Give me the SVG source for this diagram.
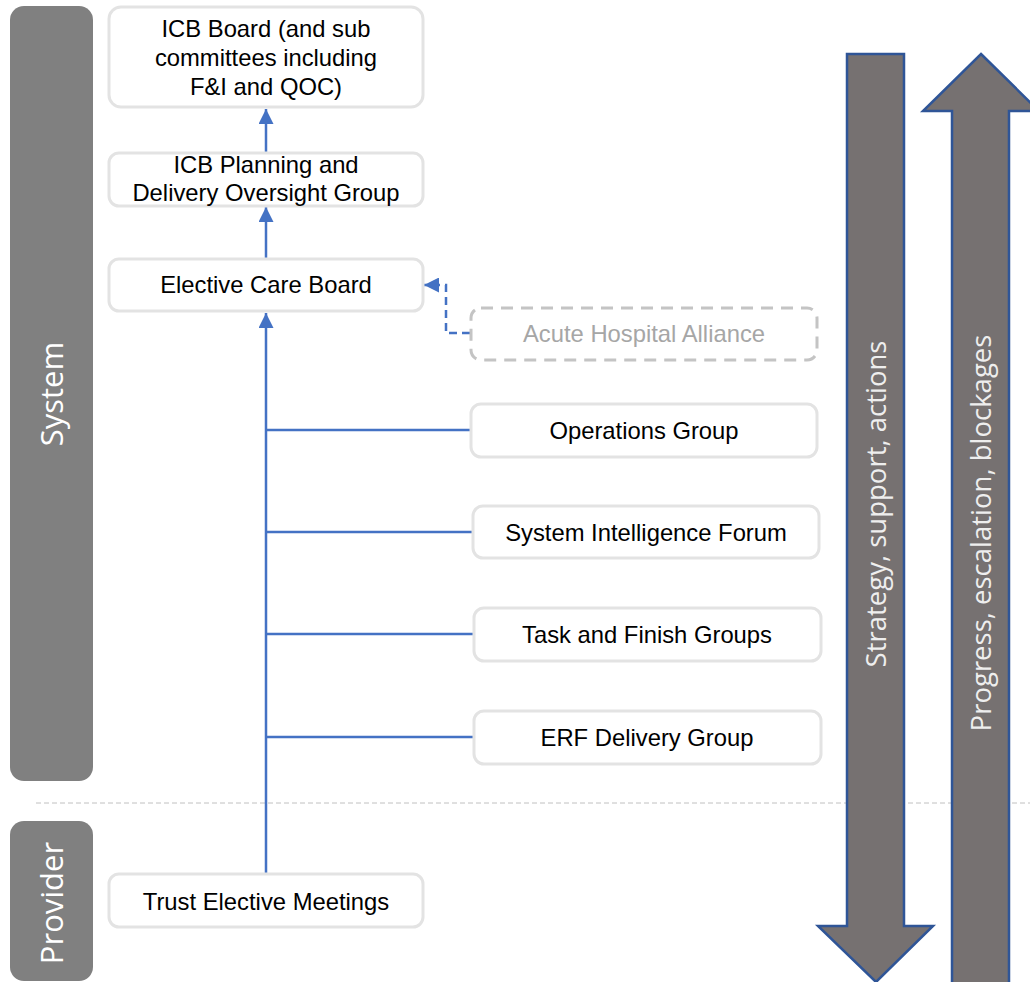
<svg xmlns="http://www.w3.org/2000/svg" width="1030" height="982" viewBox="0 0 1030 982">
<style>
.node rect{fill:#fff;stroke:#e3e3e3;stroke-width:3}
.t{font-family:"Liberation Sans",Arial,sans-serif;font-size:23.8px;fill:#000;text-anchor:middle}
.lane{fill:#808080}
.lt{font-family:"Open Sans","Noto Sans",sans-serif;font-size:31px;fill:#fff;text-anchor:middle}
.big{fill:#767171;stroke:#2F5597;stroke-width:2.5}
.at{font-family:"Open Sans","Noto Sans",sans-serif;font-size:27.5px;fill:#eeeeee;text-anchor:middle}
.c{stroke:#4472C4;stroke-width:2.5;fill:none}
</style>
<defs>
<marker id="ah" markerWidth="6" markerHeight="6" refX="6" refY="3" orient="auto" markerUnits="strokeWidth">
<path d="M0,0 L6,3 L0,6 z" fill="#4472C4"/>
</marker>
</defs>
<g id="lanes">
<rect class="lane" x="10" y="6" width="83" height="775" rx="14"/>
<text class="lt" transform="translate(63,394) rotate(-90)">System</text>
<rect class="lane" x="10" y="821" width="83" height="160" rx="14"/>
<text class="lt" transform="translate(63,903) rotate(-90)">Provider</text>
</g>
<line x1="36" y1="803" x2="1030" y2="803" stroke="#c0c0c0" stroke-width="1" stroke-dasharray="5,3"/>
<g id="connectors">
<line class="c" x1="266" y1="152" x2="266" y2="109" marker-end="url(#ah)"/>
<line class="c" x1="266" y1="258" x2="266" y2="207" marker-end="url(#ah)"/>
<line class="c" x1="266" y1="873" x2="266" y2="313" marker-end="url(#ah)"/>
<line class="c" x1="266" y1="430" x2="470" y2="430"/>
<line class="c" x1="266" y1="532" x2="472" y2="532"/>
<line class="c" x1="266" y1="634" x2="474" y2="634"/>
<line class="c" x1="266" y1="737" x2="474" y2="737"/>
<polyline class="c" points="470,333 446,333 446,285 424,285" stroke-dasharray="8,5" marker-end="url(#ah)"/>
</g>
<g id="n-icb-board" class="node">
<rect x="109" y="7" width="314" height="100" rx="12"/>
<text class="t" x="266" y="37">ICB Board (and sub</text>
<text class="t" x="266" y="66">committees including</text>
<text class="t" x="266" y="95">F&amp;I and QOC)</text>
</g>
<g id="n-icb-planning" class="node">
<rect x="109" y="153" width="314" height="53" rx="10"/>
<text class="t" x="266" y="173">ICB Planning and</text>
<text class="t" x="266" y="201">Delivery Oversight Group</text>
</g>
<g id="n-elective-care" class="node">
<rect x="109" y="259" width="314" height="52" rx="10"/>
<text class="t" x="266" y="293">Elective Care Board</text>
</g>
<g id="n-acute" class="node">
<rect x="471" y="308" width="346" height="52" rx="10" style="stroke:#c4c4c4;stroke-dasharray:12,8"/>
<text class="t" x="644" y="342" style="fill:#a6a6a6">Acute Hospital Alliance</text>
</g>
<g id="n-operations" class="node">
<rect x="471" y="404" width="346" height="53" rx="10"/>
<text class="t" x="644" y="439">Operations Group</text>
</g>
<g id="n-sif" class="node">
<rect x="473" y="506" width="346" height="52" rx="10"/>
<text class="t" x="646" y="541">System Intelligence Forum</text>
</g>
<g id="n-tfg" class="node">
<rect x="474" y="608" width="347" height="53" rx="10"/>
<text class="t" x="647" y="643">Task and Finish Groups</text>
</g>
<g id="n-erf" class="node">
<rect x="474" y="711" width="347" height="53" rx="10"/>
<text class="t" x="647" y="746">ERF Delivery Group</text>
</g>
<g id="n-trust" class="node">
<rect x="109" y="874" width="314" height="53" rx="10"/>
<text class="t" x="266" y="910">Trust Elective Meetings</text>
</g>
<g id="arrow-down">
<polygon class="big" points="847,54 904,54 904,926 933,926 876,982 818,926 847,926"/>
<text class="at" transform="translate(886,504) rotate(-90)">Strategy, support, actions</text>
</g>
<g id="arrow-up">
<polygon class="big" points="981,54 1039,111 1009,111 1009,990 952,990 952,111 923,111"/>
<text class="at" transform="translate(991,533) rotate(-90)">Progress, escalation, blockages</text>
</g>
</svg>
